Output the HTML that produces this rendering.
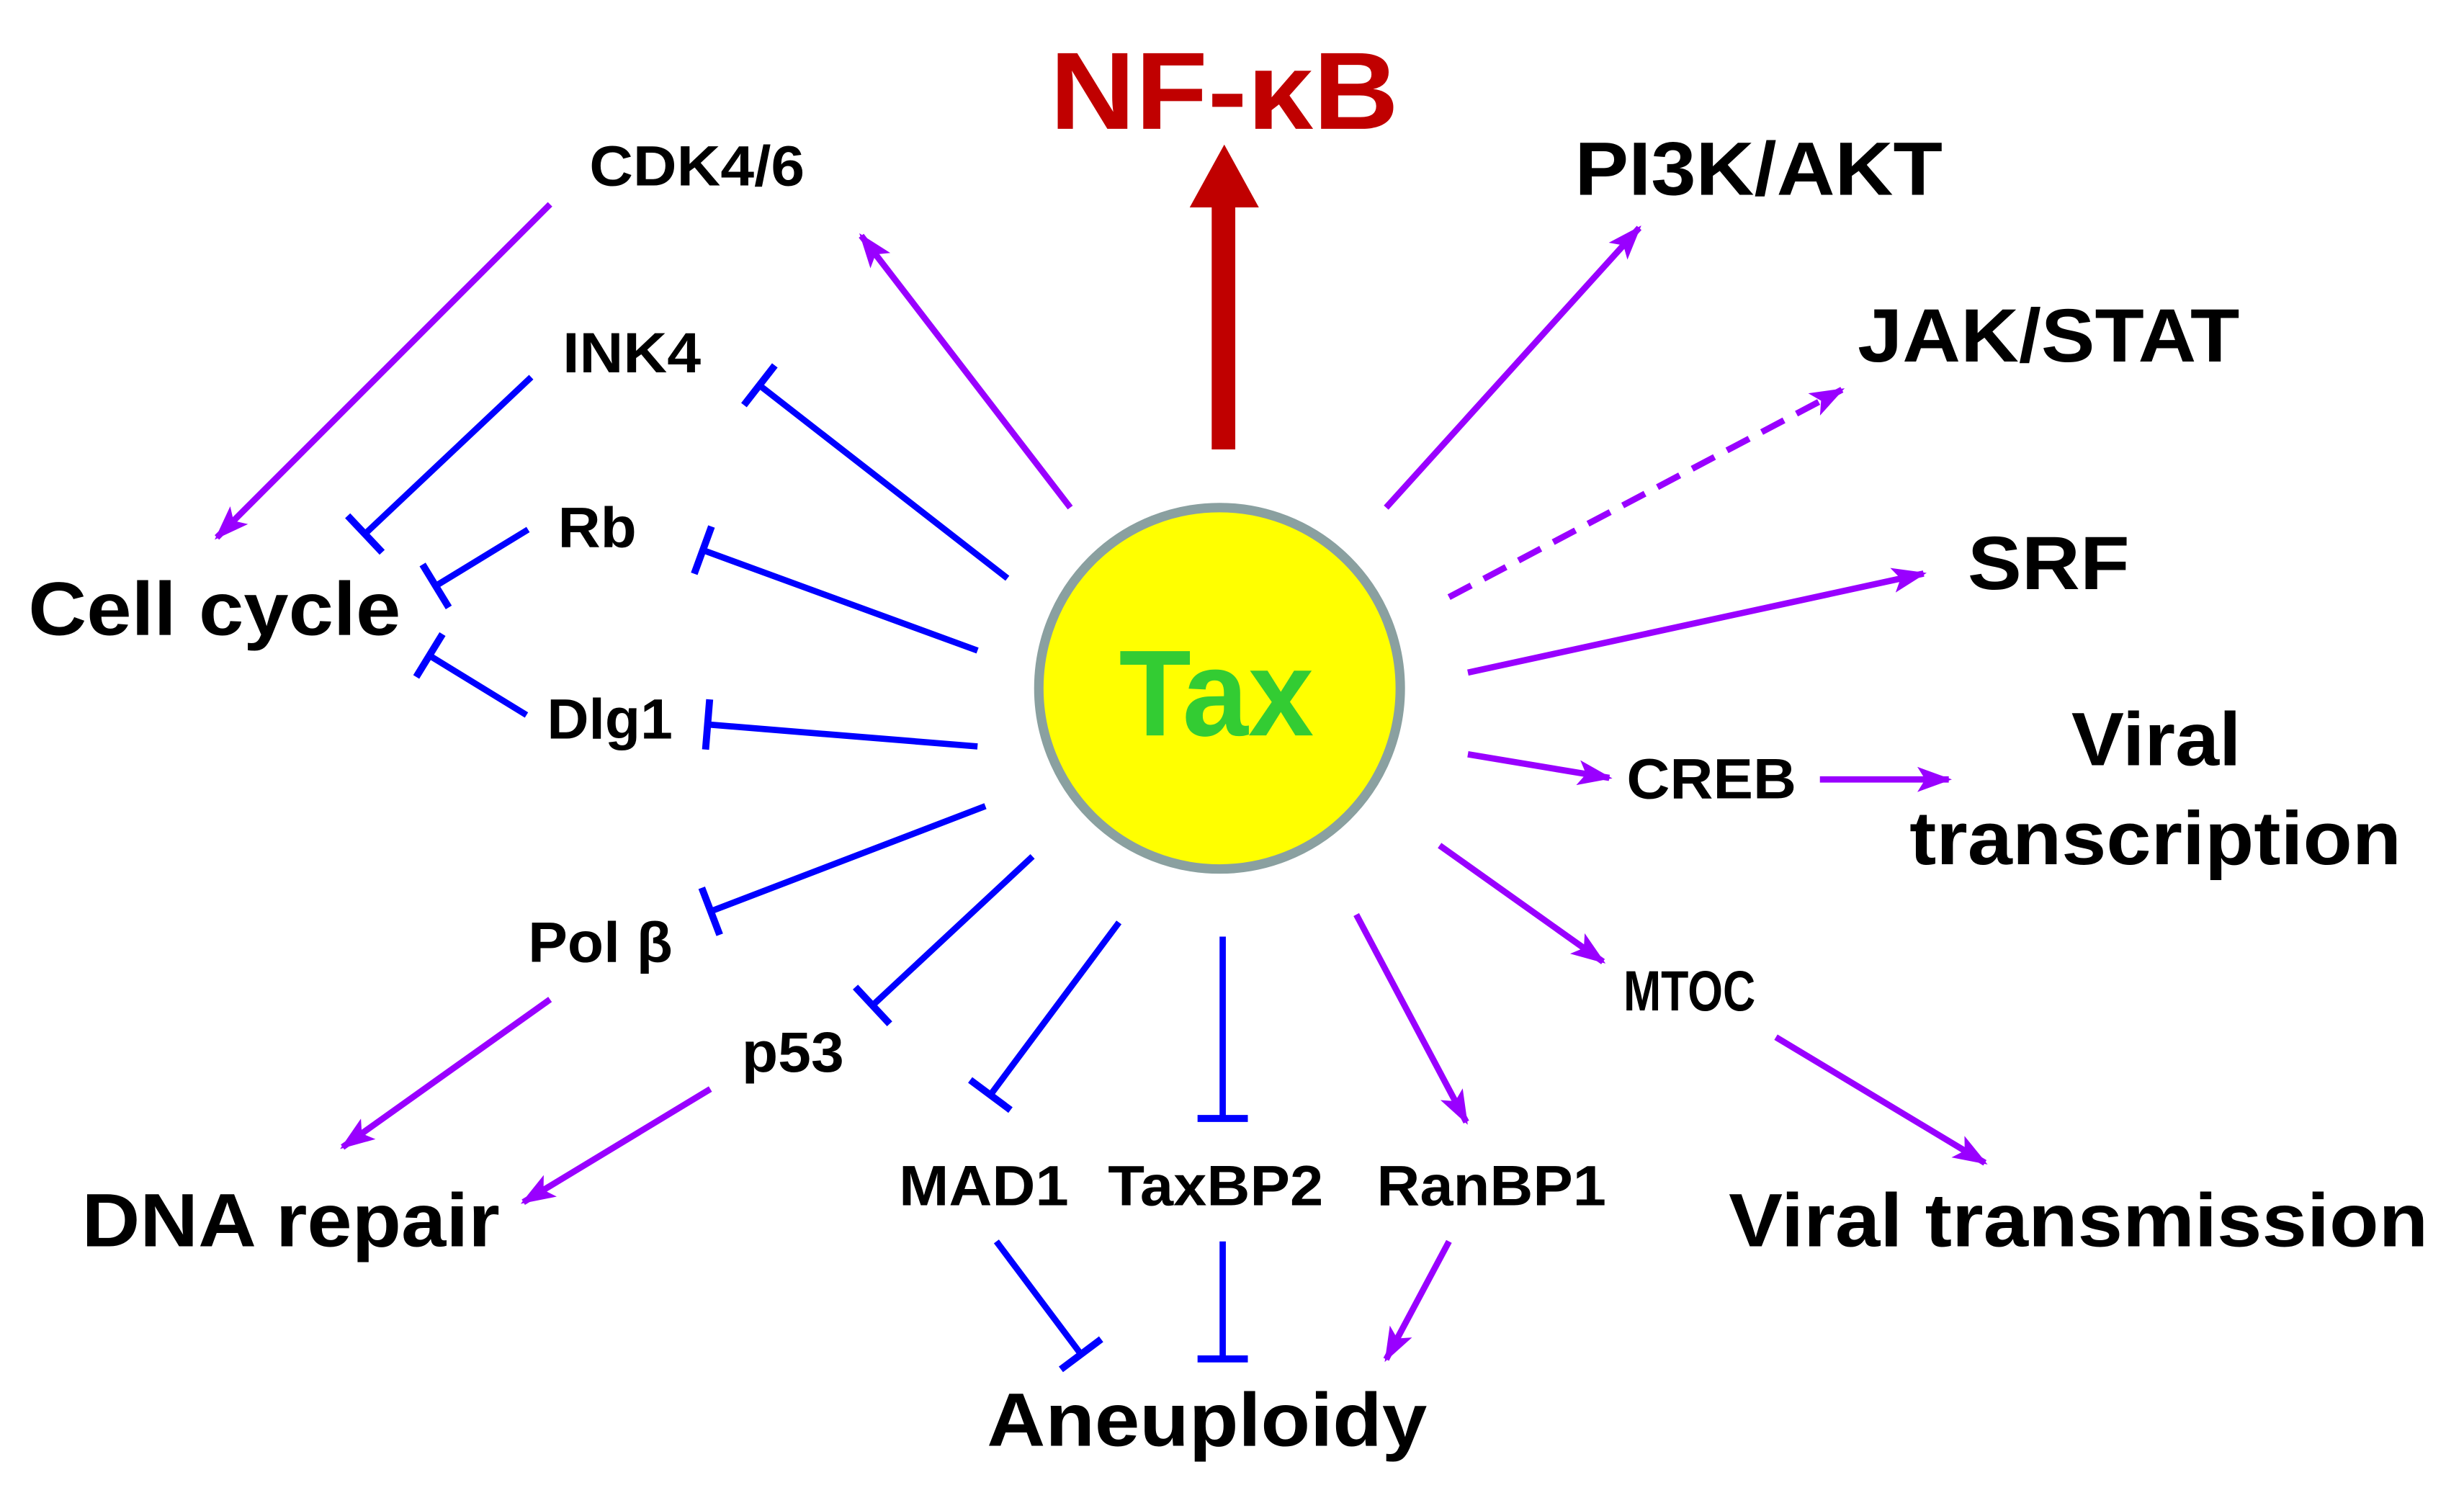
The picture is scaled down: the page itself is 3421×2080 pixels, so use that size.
<!DOCTYPE html>
<html><head><meta charset="utf-8"><style>html,body{margin:0;padding:0;background:#fff}svg{display:block}</style></head>
<body>
<svg width="3421" height="2080" viewBox="0 0 1560 948.5" preserveAspectRatio="none" xmlns="http://www.w3.org/2000/svg">
<defs>
<marker id="ap" markerUnits="userSpaceOnUse" markerWidth="24" markerHeight="18" viewBox="0 0 24 18" refX="20" refY="9" orient="auto"><path d="M0,1 L22,9 L0,17 L5,9 z" fill="#9900ff"/></marker>
<marker id="tb" markerUnits="userSpaceOnUse" markerWidth="6" markerHeight="36" viewBox="0 0 6 36" refX="3" refY="18" orient="auto"><rect x="0.5" y="2" width="4.5" height="32" fill="#0000ff"/></marker>
</defs>
<g transform="scale(0.995)">
<g stroke-width="4" fill="none">
<g stroke="#9900ff" marker-end="url(#ap)">
<line x1="882" y1="323" x2="1043" y2="145"/>
<line x1="922" y1="380" x2="1172" y2="248" stroke-dasharray="16,9"/>
<line x1="934" y1="428" x2="1224" y2="365"/>
<line x1="934" y1="480" x2="1024" y2="495"/>
<line x1="1158" y1="496" x2="1240" y2="496"/>
<line x1="916" y1="538" x2="1020" y2="612"/>
<line x1="1130" y1="660" x2="1263" y2="740"/>
<line x1="863" y1="582" x2="933" y2="714"/>
<line x1="922" y1="790" x2="882" y2="865"/>
<line x1="452" y1="693" x2="333" y2="765"/>
<line x1="350" y1="636" x2="218" y2="730"/>
<line x1="681" y1="323" x2="548" y2="150"/>
<line x1="350" y1="130" x2="138" y2="342"/>
</g>
<g stroke="#0000ff" marker-end="url(#tb)">
<line x1="778" y1="596" x2="778" y2="712"/>
<line x1="778" y1="790" x2="778" y2="865"/>
<line x1="712" y1="587" x2="630" y2="697"/>
<line x1="634" y1="790" x2="688" y2="862"/>
<line x1="657" y1="545" x2="555" y2="640"/>
<line x1="627" y1="513" x2="452" y2="580"/>
<line x1="622" y1="475" x2="450" y2="461"/>
<line x1="622" y1="414" x2="447" y2="350"/>
<line x1="641" y1="368" x2="483" y2="245"/>
<line x1="338" y1="240" x2="232" y2="340"/>
<line x1="336" y1="337" x2="277" y2="373"/>
<line x1="335" y1="455" x2="273" y2="417"/>
</g>
</g>
<rect x="771" y="128" width="15" height="158" fill="#c00000"/>
<path d="M757,132 L801,132 L779,92 z" fill="#c00000"/>
<circle cx="776" cy="438" r="115" fill="#ffff00" stroke="#8aa0a0" stroke-width="6"/>
<g font-family="Liberation Sans, sans-serif" font-weight="bold" fill="#000">
<text x="712" y="468" font-size="78" fill="#33cc33" textLength="124" lengthAdjust="spacingAndGlyphs">Tax</text>
<text x="668" y="82" font-size="70" fill="#c00000" textLength="222" lengthAdjust="spacingAndGlyphs">NF-κB</text>
<text x="1002" y="124" font-size="48" textLength="234" lengthAdjust="spacingAndGlyphs">PI3K/AKT</text>
<text x="1182" y="230" font-size="48" textLength="243" lengthAdjust="spacingAndGlyphs">JAK/STAT</text>
<text x="1252" y="375" font-size="48" textLength="103" lengthAdjust="spacingAndGlyphs">SRF</text>
<text x="1035" y="508" font-size="36" textLength="108" lengthAdjust="spacingAndGlyphs">CREB</text>
<text x="1318" y="487" font-size="48" textLength="108" lengthAdjust="spacingAndGlyphs">Viral</text>
<text x="1215" y="550" font-size="48" textLength="313" lengthAdjust="spacingAndGlyphs">transcription</text>
<text x="1033" y="643" font-size="36" textLength="84" lengthAdjust="spacingAndGlyphs">MTOC</text>
<text x="1100" y="793" font-size="48" textLength="445" lengthAdjust="spacingAndGlyphs">Viral transmission</text>
<text x="876" y="767" font-size="36" textLength="146" lengthAdjust="spacingAndGlyphs">RanBP1</text>
<text x="705" y="767" font-size="36" textLength="137" lengthAdjust="spacingAndGlyphs">TaxBP2</text>
<text x="572" y="767" font-size="36" textLength="108" lengthAdjust="spacingAndGlyphs">MAD1</text>
<text x="628" y="920" font-size="48" textLength="280" lengthAdjust="spacingAndGlyphs">Aneuploidy</text>
<text x="472" y="682" font-size="36" textLength="65" lengthAdjust="spacingAndGlyphs">p53</text>
<text x="336" y="612" font-size="36" textLength="92" lengthAdjust="spacingAndGlyphs">Pol β</text>
<text x="52" y="793" font-size="48" textLength="266" lengthAdjust="spacingAndGlyphs">DNA repair</text>
<text x="348" y="470" font-size="36" textLength="80" lengthAdjust="spacingAndGlyphs">Dlg1</text>
<text x="355" y="348" font-size="36" textLength="50" lengthAdjust="spacingAndGlyphs">Rb</text>
<text x="358" y="237" font-size="36" textLength="88" lengthAdjust="spacingAndGlyphs">INK4</text>
<text x="375" y="118" font-size="36" textLength="137" lengthAdjust="spacingAndGlyphs">CDK4/6</text>
<text x="18" y="404" font-size="48" textLength="237" lengthAdjust="spacingAndGlyphs">Cell cycle</text>
</g>
</g>
</svg>
</body></html>
